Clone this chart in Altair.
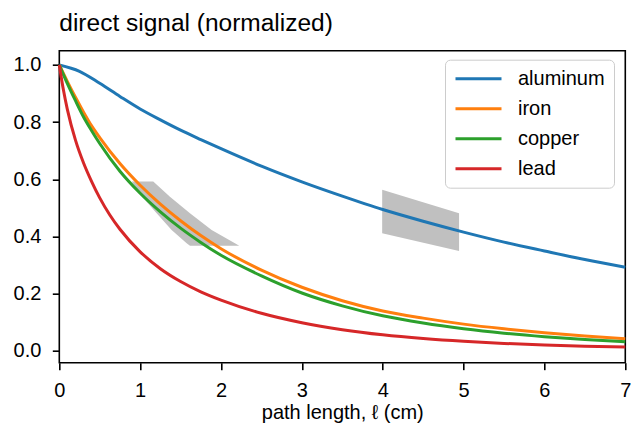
import altair as alt
import pandas as pd

title_text = "direct signal (normalized)"
x_title = "path length, \u2113 (cm)"
materials = ["aluminum", "iron", "copper", "lead"]
colors = ["#1f77b4", "#ff7f0e", "#2ca02c", "#d62728"]
x_ticks = [0, 1, 2, 3, 4, 5, 6, 7]
y_ticks = [0.0, 0.2, 0.4, 0.6, 0.8, 1.0]

# aluminum
al_x = [0, 0.25, 0.5, 0.75, 1, 1.25, 1.5, 1.75, 2, 2.5, 3, 3.5, 4, 4.5, 5, 5.5,
        6, 6.5, 7]
al_y = [1.0, 0.978, 0.936, 0.89, 0.846, 0.808, 0.772, 0.739, 0.707, 0.646, 0.591,
        0.541, 0.494, 0.453, 0.415, 0.38, 0.349, 0.319, 0.292]

# iron / copper share the same sample positions
fe_x = [0, 0.1, 0.2, 0.3, 0.4, 0.5, 0.75, 1, 1.25, 1.5, 1.75, 2, 2.5, 3, 3.5, 4,
        4.5, 5, 5.5, 6, 6.5, 7]
fe_y = [1.0, 0.942, 0.887, 0.835, 0.787, 0.746, 0.655, 0.579, 0.513, 0.455, 0.403,
        0.357, 0.282, 0.222, 0.175, 0.139, 0.114, 0.093, 0.0765, 0.0625, 0.051, 0.042]
cu_x = fe_x
cu_y = [1.0, 0.935, 0.875, 0.818, 0.77, 0.725, 0.628, 0.551, 0.486, 0.429, 0.379,
        0.334, 0.262, 0.202, 0.157, 0.122, 0.0968, 0.077, 0.0613, 0.0488, 0.0388,
        0.0309]

# lead
pb_x = [0, 0.05, 0.1, 0.2, 0.3, 0.4, 0.5, 0.625, 0.75, 1, 1.25, 1.5, 1.75, 2,
        2.5, 3, 3.5, 4, 4.5, 5, 5.5, 6, 6.5, 7]
pb_y = [1.0, 0.914, 0.844, 0.737, 0.657, 0.592, 0.535, 0.475, 0.425, 0.346, 0.287,
        0.242, 0.206, 0.177, 0.131, 0.098, 0.0736, 0.0556, 0.0425, 0.0327, 0.0255,
        0.02, 0.0159, 0.0127]

# grey band 1 (horizontal extent per signal level)
b1_y = [0.367, 0.376, 0.422, 0.481, 0.539, 0.592]
b1_xl = [1.616, 1.575, 1.389, 1.204, 1.026, 0.895]
b1_xr = [2.225, 2.172, 1.884, 1.616, 1.368, 1.162]

# grey band 2 (vertical extent per path length)
b2_x = [3.993, 4.944]
b2_lo = [0.411, 0.349]
b2_hi = [0.563, 0.481]

rows = []
for name, xs_, ys_ in [("aluminum", al_x, al_y), ("iron", fe_x, fe_y),
                       ("copper", cu_x, cu_y), ("lead", pb_x, pb_y)]:
    for a, b in zip(xs_, ys_):
        rows.append({"material": name, "l": a, "signal": b})
df = pd.DataFrame(rows)
df_b1 = pd.DataFrame({"sig": b1_y, "xl": b1_xl, "xr": b1_xr})
df_b2 = pd.DataFrame({"l": b2_x, "lo": b2_lo, "hi": b2_hi})

FONT = "Liberation Sans"
xs = alt.Scale(domain=[0, 7], nice=False, zero=False)
ys = alt.Scale(domain=[-0.042, 1.05], nice=False, zero=False)

xax = alt.Axis(values=x_ticks, format="d", title=x_title, titleY=56,
               titleBaseline="alphabetic", labelBaseline="alphabetic",
               labelPadding=26.8, labelFlush=False)
yax = alt.Axis(values=y_ticks, format=".1f", title=None, labelPadding=11.5,
               labelFlush=False)

band1 = alt.Chart(df_b1).mark_area(orient="horizontal", color="#c0c0c0").encode(
    y=alt.Y("sig:Q", scale=ys, axis=yax),
    x=alt.X("xl:Q", scale=xs, axis=xax),
    x2="xr:Q",
)

band2 = alt.Chart(df_b2).mark_area(color="#c0c0c0").encode(
    x=alt.X("l:Q", scale=xs, axis=xax),
    y=alt.Y("lo:Q", scale=ys, axis=yax),
    y2="hi:Q",
)

lines = alt.Chart(df).mark_line(strokeWidth=3, interpolate="monotone").encode(
    x=alt.X("l:Q", scale=xs, axis=xax),
    y=alt.Y("signal:Q", scale=ys, axis=yax),
    color=alt.Color(
        "material:N",
        scale=alt.Scale(domain=materials, range=colors),
        sort=materials,
        title=None,
        legend=alt.Legend(
            orient="none", legendX=385.7, legendY=9,
            symbolType="stroke", symbolSize=2116, symbolStrokeWidth=3,
            clipHeight=20, rowPadding=10,
            labelFontSize=20, labelFont=FONT, labelColor="black", labelOffset=15,
            padding=9, strokeColor="#cccccc", fillColor="white", cornerRadius=5,
        ),
    ),
)

chart = alt.layer(band1, band2, lines).properties(
    width=566,
    height=312,
    padding={"left": 51.3, "top": 42.7, "right": 7, "bottom": 61},
    autosize=alt.AutoSizeParams(type="none"),
    title=alt.TitleParams(
        text=title_text, anchor="start", frame="group", fontSize=24.5, font=FONT,
        fontWeight="normal", color="black", baseline="alphabetic", offset=-4.5,
    ),
).configure_view(
    stroke="black", strokeWidth=1.6
).configure_axis(
    domain=False, grid=False, tickColor="black", tickWidth=1.6, tickSize=7,
    labelFont=FONT, labelFontSize=20, labelColor="black",
    titleFont=FONT, titleFontSize=20, titleColor="black", titleFontWeight="normal",
)

chart.save("out.html", embed_options={"renderer": "svg", "actions": False})
